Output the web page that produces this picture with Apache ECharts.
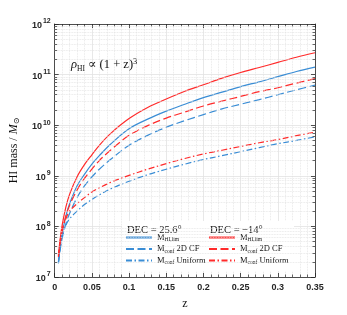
<!DOCTYPE html>
<html><head><meta charset="utf-8">
<script src="https://cdn.jsdelivr.net/npm/echarts@6/dist/echarts.min.js"></script>
<style>html,body{margin:0;padding:0;background:#fff}#c{width:347px;height:315px}</style>
</head><body><div id="c"></div>
<script>
// ---- data ----
const zValues = [0.005, 0.0075, 0.01, 0.015, 0.02, 0.03, 0.04, 0.05, 0.06, 0.075, 0.1, 0.125, 0.15, 0.175, 0.2, 0.225, 0.25, 0.275, 0.3, 0.325, 0.35];
// DEC = 25.6 deg (blue)
const blueLim = [1.9e7, 4.0e7, 7.1e7, 1.6e8, 2.8e8, 6.3e8, 1.07e9, 1.7e9, 2.5e9, 4.2e9, 8.5e9, 1.32e10, 1.9e10, 2.6e10, 3.5e10, 4.5e10, 5.8e10, 7.2e10, 9.1e10, 1.15e11, 1.41e11];
const blueCF  = [1.86e7, 3.5e7, 5.8e7, 1.12e8, 1.8e8, 3.7e8, 6.3e8, 9.5e8, 1.35e9, 2.1e9, 4.0e9, 6.3e9, 9.1e9, 1.23e10, 1.62e10, 2.1e10, 2.6e10, 3.2e10, 4.0e10, 5.0e10, 6.2e10];
const blueUni = [2.0e7, 4.0e7, 6.6e7, 1.05e8, 1.41e8, 2.0e8, 2.7e8, 3.4e8, 4.2e8, 5.5e8, 7.8e8, 1.05e9, 1.35e9, 1.7e9, 2.1e9, 2.5e9, 3.0e9, 3.6e9, 4.3e9, 5.0e9, 5.9e9];
// DEC = -14 deg (red)
const redLim = [2.7e7, 5.9e7, 1.05e8, 2.4e8, 4.3e8, 9.5e8, 1.66e9, 2.6e9, 4.0e9, 6.8e9, 1.35e10, 2.24e10, 3.3e10, 4.7e10, 6.3e10, 8.5e10, 1.1e11, 1.38e11, 1.74e11, 2.2e11, 2.7e11];
const redCF  = [2.5e7, 4.8e7, 7.9e7, 1.6e8, 2.6e8, 5.2e8, 8.9e8, 1.35e9, 2.0e9, 3.2e9, 6.3e9, 9.8e9, 1.38e10, 1.82e10, 2.4e10, 3.0e10, 3.7e10, 4.6e10, 5.5e10, 6.8e10, 8.3e10];
const redUni = [2.6e7, 5.2e7, 8.9e7, 1.41e8, 2.0e8, 2.8e8, 3.7e8, 4.8e8, 5.8e8, 7.4e8, 1.02e9, 1.35e9, 1.74e9, 2.2e9, 2.7e9, 3.2e9, 3.8e9, 4.5e9, 5.2e9, 6.2e9, 7.3e9];

const xTickValues = [0, 0.05, 0.1, 0.15, 0.2, 0.25, 0.3, 0.35];
const yDecades = [7, 8, 9, 10, 11, 12];
const minorMultipliers = [2, 3, 4, 5, 6, 7, 8, 9];
const legendHeaders = ['DEC = 25.6°', 'DEC = −14°'];
const blueNames = ['b-lim', 'b-cf', 'b-uni'];
const redNames = ['r-lim', 'r-cf', 'r-uni'];
const legendTexts = {
  lim: '{m|M}{s|HI,lim}',
  cf: '{m|M}{s|conf}{m| 2D CF}',
  uni: '{m|M}{s|conf}{m| Uniform}'
};

// ---- styling ----
const BLUE = '#3a8dd5';
const RED = '#ff2b2b';
const AX = '#262626';
const GRIDC = '#e2e2e2';
const SERIF = '"Liberation Serif","DejaVu Serif",serif';
const SANS = '"Liberation Sans",Arial,sans-serif';
const DASH = [8, 3.5];
const DASHDOT = [6, 2.5, 1.5, 2.5];

const minorVals = [];
yDecades.slice(0, -1).forEach(d => minorMultipliers.forEach(m => minorVals.push(m * Math.pow(10, d))));

function mk(name, ys, color, type) {
  return {
    name: name, type: 'line', xAxisIndex: 0, yAxisIndex: 0,
    data: zValues.map((z, i) => [z, ys[i]]),
    symbol: 'none', smooth: 0.35, z: 3,
    lineStyle: { color: color, width: 1.2, type: type },
    itemStyle: { color: color },
    animation: false
  };
}

const legendRich = {
  m: { fontFamily: SERIF, fontSize: 8.5, color: '#111', lineHeight: 11 },
  s: { fontFamily: SERIF, fontSize: 5.5, color: '#111', lineHeight: 6, verticalAlign: 'bottom' }
};
function legendFmt(name) { return legendTexts[name.split('-')[1]]; }

const tickLen = 0.0033;
const legendCommon = {
  orient: 'vertical', top: 233, padding: 0,
  itemWidth: 26, itemHeight: 10, itemGap: 1.5, selectedMode: false,
  itemStyle: { opacity: 0, borderWidth: 0 },
  formatter: legendFmt, textStyle: { rich: legendRich }, z: 5
};
const option = {
  animation: false,
  grid: { left: 45, right: 32, top: 24, bottom: 35, containLabel: false },
  xAxis: [{
    type: 'value', min: 0, max: 0.35, interval: 0.05, position: 'bottom',
    axisLine: { show: true, onZero: false, lineStyle: { color: AX, width: 0.8 } },
    axisTick: { show: true, inside: true, length: 4, lineStyle: { color: AX, width: 0.8 } },
    minorTick: { show: true, splitNumber: 5, length: 2.5, lineStyle: { color: AX, width: 0.7 } },
    axisLabel: { margin: 6, fontSize: 9, fontWeight: 'bold', color: AX, fontFamily: SANS,
      formatter: v => { const t = xTickValues.find(x => Math.abs(x - v) < 1e-9); return t === undefined ? '' : String(t); } },
    splitLine: { show: true, lineStyle: { color: GRIDC, width: 0.8 } },
    minorSplitLine: { show: true, lineStyle: { color: GRIDC, width: 0.8, type: 'dotted' } },
    name: 'z', nameLocation: 'middle', nameGap: 21,
    nameTextStyle: { fontFamily: SERIF, fontSize: 12, color: '#111' }
  }, {
    type: 'value', min: 0, max: 0.35, interval: 0.05, position: 'top',
    axisLine: { show: true, onZero: false, lineStyle: { color: AX, width: 0.8 } },
    axisTick: { show: true, inside: true, length: 4, lineStyle: { color: AX, width: 0.8 } },
    minorTick: { show: true, splitNumber: 5, length: 2.5, lineStyle: { color: AX, width: 0.7 } },
    axisLabel: { show: false }, splitLine: { show: false }
  }],
  yAxis: [{
    type: 'log', logBase: 10, min: 1e7, max: 1e12, position: 'left',
    axisLine: { show: true, onZero: false, lineStyle: { color: AX, width: 0.8 } },
    axisTick: { show: true, inside: true, length: 4, lineStyle: { color: AX, width: 0.8 } },
    axisLabel: { margin: 4, color: AX,
      formatter: v => '{b|10}{e|' + Math.round(Math.log10(v)) + '}',
      rich: {
        b: { fontFamily: SANS, fontWeight: 'bold', fontSize: 9, color: AX, lineHeight: 12, verticalAlign: 'bottom' },
        e: { fontFamily: SANS, fontWeight: 'bold', fontSize: 7, color: AX, lineHeight: 12, verticalAlign: 'top', padding: [0, 0, 5, 1] }
      } },
    splitLine: { show: true, lineStyle: { color: GRIDC, width: 0.8 } },
    name: '{n|HI mass / }{i|M}{s|⊙}', nameLocation: 'middle', nameGap: 30, nameRotate: 90,
    nameTextStyle: { rich: {
      n: { fontFamily: SERIF, fontSize: 12, color: '#111', lineHeight: 14 },
      i: { fontFamily: SERIF, fontStyle: 'italic', fontSize: 12, color: '#111', lineHeight: 14 },
      s: { fontFamily: SERIF, fontSize: 8, color: '#111', lineHeight: 8, verticalAlign: 'bottom' }
    } }
  }, {
    type: 'log', logBase: 10, min: 1e7, max: 1e12, position: 'right',
    axisLine: { show: true, onZero: false, lineStyle: { color: AX, width: 0.8 } },
    axisTick: { show: true, inside: true, length: 4, lineStyle: { color: AX, width: 0.8 } },
    axisLabel: { show: false }, splitLine: { show: false }
  }],
  legend: [
    Object.assign({ data: blueNames, left: 125 }, legendCommon),
    Object.assign({ data: redNames, left: 208 }, legendCommon)
  ],
  graphic: [
    { type: 'rect', shape: { x: 122, y: 221, width: 172, height: 50 }, style: { fill: '#fff' }, z: 4 },
    { type: 'text', x: 127, y: 225, z: 5, style: { text: legendHeaders[0], font: '10.5px ' + SERIF, fill: '#111' } },
    { type: 'text', x: 210, y: 225, z: 5, style: { text: legendHeaders[1], font: '10.5px ' + SERIF, fill: '#111' } },
    { type: 'text', x: 71, y: 57, z: 5, style: {
      text: '{i|ρ}{s|HI}{n| ∝ (1 + z)}{p|3}',
      rich: {
        i: { fontFamily: SERIF, fontStyle: 'italic', fontSize: 12.5, fill: '#111', lineHeight: 16 },
        n: { fontFamily: SERIF, fontSize: 12.5, fill: '#111', lineHeight: 16 },
        s: { fontFamily: SERIF, fontSize: 7.5, fill: '#111', lineHeight: 8, verticalAlign: 'bottom' },
        p: { fontFamily: SERIF, fontSize: 8.5, fill: '#111', lineHeight: 8, verticalAlign: 'top' }
      } } }
  ],
  series: [
    mk('b-lim', blueLim, BLUE, 'solid'),
    mk('b-cf', blueCF, BLUE, DASH),
    mk('b-uni', blueUni, BLUE, DASHDOT),
    mk('r-lim', redLim, RED, 'solid'),
    mk('r-cf', redCF, RED, DASH),
    mk('r-uni', redUni, RED, DASHDOT),
    {
      name: 'minor-grid', type: 'line', data: [], symbol: 'none', z: 1, silent: true,
      markLine: { silent: true, symbol: ['none', 'none'], label: { show: false }, animation: false,
        lineStyle: { color: GRIDC, width: 0.8, type: 'dotted' },
        data: minorVals.map(v => ({ yAxis: v })) }
    },
    {
      name: 'minor-ticks', type: 'line', data: [], symbol: 'none', z: 6, silent: true,
      markLine: { silent: true, symbol: ['none', 'none'], label: { show: false }, animation: false,
        lineStyle: { color: AX, width: 0.7, type: 'solid' },
        data: minorVals.map(v => [{ coord: [0, v] }, { coord: [tickLen, v] }])
          .concat(minorVals.map(v => [{ coord: [0.35, v] }, { coord: [0.35 - tickLen, v] }])) }
    }
  ]
};
const chart = echarts.init(document.getElementById('c'), null, { renderer: 'canvas' });
chart.setOption(option);
</script></body></html>
